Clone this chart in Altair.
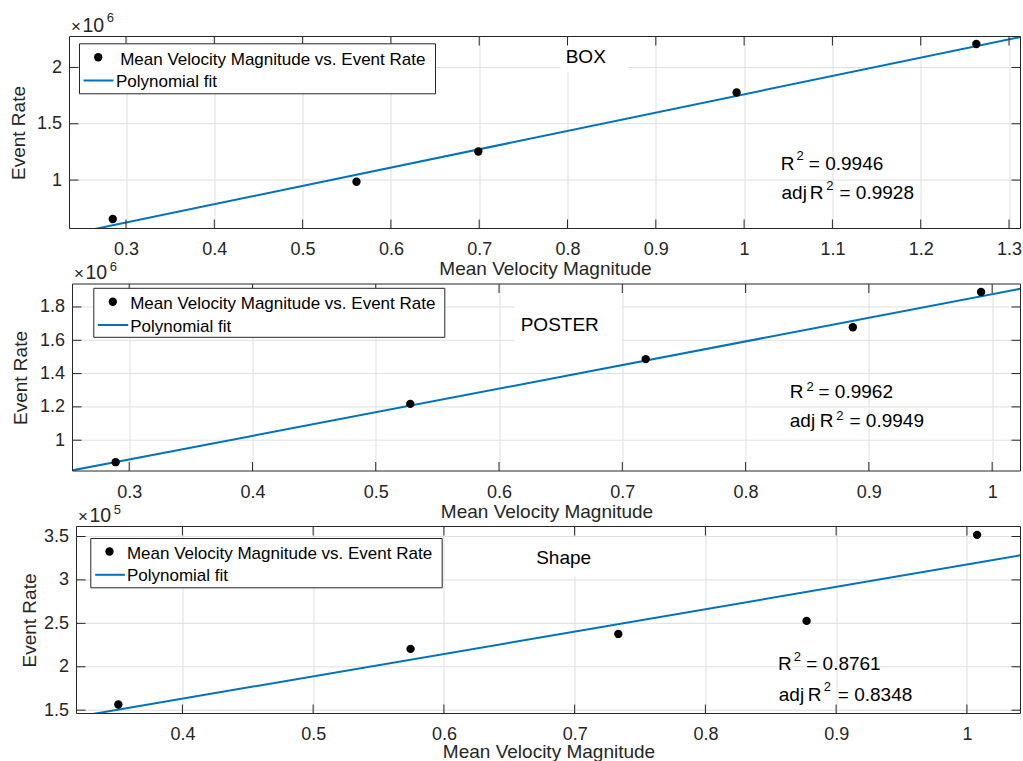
import altair as alt
import pandas as pd

FONT = "Liberation Sans"
DARK = "#262626"
BLUE = "#0072BD"
GRID = "#dfdfdf"

# ---------------- data ----------------
box_velocity = [0.285, 0.561, 0.699, 0.9915, 1.263]
box_rate = [654000, 985000, 1254000, 1778000, 2208000]
box_fit_velocity = [0.236, 1.313]
box_fit_rate = [519000, 2271000]

poster_velocity = [0.289, 0.528, 0.719, 0.887, 0.991]
poster_rate = [868000, 1218000, 1487000, 1678000, 1890000]
poster_fit_velocity = [0.254, 1.023]
poster_fit_rate = [819000, 1909500]

shape_velocity = [0.351, 0.5745, 0.7334, 0.8774, 1.0078]
shape_rate = [156500, 220600, 237800, 252800, 351900]
shape_fit_velocity = [0.319, 1.041]
shape_fit_rate = [142400, 328300]

panel_names = ["BOX", "POSTER", "Shape"]
r_squared = ["0.9946", "0.9962", "0.8761"]
adj_r_squared = ["0.9928", "0.9949", "0.8348"]
exponents = [6, 6, 5]
legend_labels = ["Mean Velocity Magnitude vs. Event Rate", "Polynomial fit"]

x_ticks_box = [0.3, 0.4, 0.5, 0.6, 0.7, 0.8, 0.9, 1.0, 1.1, 1.2, 1.3]
x_ticks_poster = [0.3, 0.4, 0.5, 0.6, 0.7, 0.8, 0.9, 1.0]
x_ticks_shape = [0.4, 0.5, 0.6, 0.7, 0.8, 0.9, 1.0]
y_ticks_box = [1000000, 1500000, 2000000]
y_ticks_poster = [1000000, 1200000, 1400000, 1600000, 1800000]
y_ticks_shape = [150000, 200000, 250000, 300000, 350000]

x_domain_box = [0.236, 1.313]
y_domain_box = [570000, 2275000]
x_domain_poster = [0.254, 1.023]
y_domain_poster = [815000, 1938000]
x_domain_shape = [0.319, 1.041]
y_domain_shape = [146200, 361500]

one = pd.DataFrame({"k": [0]})
TICK = 9
ORIGIN = 69          # common left origin of the three panels
FULL_W = 951         # from the common origin to the right frame edge
ANCHOR_X = 2


def text_piece(x, y, s, size, color="black"):
    return alt.Chart(one).mark_text(
        text=s, align="left", baseline="alphabetic", font=FONT,
        fontSize=size, color=color
    ).encode(x=alt.value(x), y=alt.value(y))


def rect_piece(x1, y1, x2, y2, stroke=False):
    if stroke:
        m = alt.Chart(one).mark_rect(fill="white", stroke=DARK, strokeWidth=1)
    else:
        m = alt.Chart(one).mark_rect(fill="white")
    return m.encode(x=alt.value(x1), x2=alt.value(x2), y=alt.value(y1), y2=alt.value(y2))


def panel(vel, rate, fvel, frate, xdom, ydom, xticks, yticks, exp, name, r2, adj, g):
    W, H = FULL_W, g["H"]
    dx = g["left"] - ORIGIN
    div = 10 ** exp
    xs = alt.Scale(domain=xdom, nice=False, zero=False, range=[dx, W])
    ys = alt.Scale(domain=ydom, nice=False, zero=False)
    xaxis = alt.Axis(values=xticks, title="Mean Velocity Magnitude", format="~g",
                     grid=True, labelPadding=12, titlePadding=g["xtp"],
                     titleBaseline="alphabetic")
    yaxis = alt.Axis(values=yticks, title="Event Rate", grid=False,
                     labelExpr=f"format(datum.value / {div}, '~g')",
                     labelPadding=8 - dx, titlePadding=g["ytp"])
    X = alt.X("v:Q", scale=xs, axis=xaxis)
    Y = alt.Y("r:Q", scale=ys, axis=yaxis)

    pts = pd.DataFrame({"v": vel, "r": rate})
    fit = pd.DataFrame({"v": fvel, "r": frate})
    xt = pd.DataFrame({"v": xticks})
    yt = pd.DataFrame({"r": yticks})

    def P(p):
        return (p[0] + dx, p[1])

    layers = []
    # invisible anchor fixing the panel's outer extent
    layers.append(alt.Chart(one).mark_rule(color="white", strokeWidth=1).encode(
        x=alt.value(-(ORIGIN - ANCHOR_X)), y=alt.value(-26), y2=alt.value(H + 52)))
    # horizontal grid lines inside the frame
    layers.append(alt.Chart(yt).mark_rule(color=GRID, strokeWidth=1).encode(
        y=Y, x=alt.value(dx), x2=alt.value(W)))
    # white background behind the panel name
    nx1, ny1, nx2, ny2 = g["name_rect"]
    layers.append(rect_piece(nx1 + dx, ny1, nx2 + dx, ny2))
    # fit line and data points
    layers.append(alt.Chart(fit).mark_line(color=BLUE, strokeWidth=2, clip=True).encode(x=X, y=Y))
    layers.append(alt.Chart(pts).mark_circle(color="black", size=70, opacity=1).encode(x=X, y=Y))
    # axes frame
    layers.append(alt.Chart(one).mark_rect(fillOpacity=0, stroke=DARK, strokeWidth=1).encode(
        x=alt.value(dx), x2=alt.value(W), y=alt.value(0), y2=alt.value(H)))
    # inward ticks on all four sides
    layers.append(alt.Chart(xt).mark_rule(color=DARK).encode(x=X, y=alt.value(0), y2=alt.value(TICK)))
    layers.append(alt.Chart(xt).mark_rule(color=DARK).encode(x=X, y=alt.value(H - TICK), y2=alt.value(H)))
    layers.append(alt.Chart(yt).mark_rule(color=DARK).encode(y=Y, x=alt.value(dx), x2=alt.value(dx + TICK)))
    layers.append(alt.Chart(yt).mark_rule(color=DARK).encode(y=Y, x=alt.value(W - TICK), x2=alt.value(W)))
    # legend
    lx1, ly1, lx2, ly2 = g["leg_box"]
    layers.append(rect_piece(lx1 + dx, ly1, lx2 + dx, ly2, stroke=True))
    ddx, ddy = P(g["leg_dot"])
    layers.append(alt.Chart(one).mark_circle(color="black", size=70, opacity=1).encode(
        x=alt.value(ddx), y=alt.value(ddy)))
    sx1, sx2, sy = g["leg_line"]
    layers.append(alt.Chart(one).mark_rule(color=BLUE, strokeWidth=2).encode(
        x=alt.value(sx1 + dx), x2=alt.value(sx2 + dx), y=alt.value(sy)))
    t1x, t1y = P(g["leg_t1"])
    t2x, t2y = P(g["leg_t2"])
    layers.append(text_piece(t1x, t1y, legend_labels[0], 17))
    layers.append(text_piece(t2x, t2y, legend_labels[1], 17))
    # panel name
    tx, ty = P(g["name_txt"])
    layers.append(text_piece(tx, ty, name, 19))
    # R^2 annotations
    r = {k: P(v) for k, v in g["r2"].items()}
    layers.append(text_piece(r["R"][0], r["R"][1], "R", 19))
    layers.append(text_piece(r["s"][0], r["s"][1], "2", 13))
    layers.append(text_piece(r["e"][0], r["e"][1], "= " + r2, 19))
    layers.append(text_piece(r["a"][0], r["a"][1], "adj", 19))
    layers.append(text_piece(r["aR"][0], r["aR"][1], "R", 19))
    layers.append(text_piece(r["as"][0], r["as"][1], "2", 13))
    layers.append(text_piece(r["ae"][0], r["ae"][1], "= " + adj, 19))
    # exponent multiplier above the y axis
    mb, eb = g["mult_base"]
    layers.append(text_piece(1.5 + dx, mb, "\u00d7", 17, DARK))
    layers.append(text_piece(13 + dx, mb, "10", 19.5, DARK))
    layers.append(text_piece(37.2 + dx, eb, str(exp), 13, DARK))

    return alt.layer(*layers).properties(width=W, height=H)


geo_box = dict(
    left=69, H=192, xtp=16, ytp=7.7,
    leg_box=(10, 7.3, 366, 57.3), leg_dot=(28.7, 20.7), leg_line=(14, 44, 44),
    leg_t1=(50.7, 28), leg_t2=(46.4, 50.3),
    name_rect=(491, 3, 559, 36), name_txt=(496.2, 26.3),
    r2=dict(R=(711.2, 133), s=(727, 123.7), e=(739.3, 133),
            a=(712, 162.5), aR=(740.2, 162.5), **{"as": (756.7, 153)}, ae=(770, 162.5)),
    mult_base=(-4.3, -14.3),
)
geo_poster = dict(
    left=72, H=187, xtp=16, ytp=8.7,
    leg_box=(21.3, 4.3, 372.3, 53.3), leg_dot=(40.3, 17.7), leg_line=(25.3, 55.7, 41),
    leg_t1=(57.7, 25), leg_t2=(57.7, 47.7),
    name_rect=(442, 10, 549, 58), name_txt=(448.2, 46.7),
    r2=dict(R=(717.2, 114.3), s=(734, 106.7), e=(746, 114.3),
            a=(717.3, 142.7), aR=(747.2, 142.7), **{"as": (763.7, 136)}, ae=(777, 142.7)),
    mult_base=(-4.7, -13),
)
geo_shape = dict(
    left=76, H=187, xtp=14, ytp=3.7,
    leg_box=(14.3, 12, 365.7, 61.3), leg_dot=(33, 25), leg_line=(18.7, 48.3, 48.3),
    leg_t1=(50.4, 32.3), leg_t2=(50.4, 54.7),
    name_rect=(454, 11, 522, 50), name_txt=(459.7, 37.3),
    r2=dict(R=(701.5, 143.3), s=(717.3, 134.7), e=(729.7, 143.3),
            a=(702.3, 174), aR=(731.2, 174), **{"as": (747.3, 164)}, ae=(761.3, 174)),
    mult_base=(-4.5, -13),
)

p1 = panel(box_velocity, box_rate, box_fit_velocity, box_fit_rate, x_domain_box, y_domain_box,
           x_ticks_box, y_ticks_box, exponents[0], panel_names[0], r_squared[0], adj_r_squared[0], geo_box)
p2 = panel(poster_velocity, poster_rate, poster_fit_velocity, poster_fit_rate, x_domain_poster,
           y_domain_poster, x_ticks_poster, y_ticks_poster, exponents[1], panel_names[1],
           r_squared[1], adj_r_squared[1], geo_poster)
p3 = panel(shape_velocity, shape_rate, shape_fit_velocity, shape_fit_rate, x_domain_shape,
           y_domain_shape, x_ticks_shape, y_ticks_shape, exponents[2], panel_names[2],
           r_squared[2], adj_r_squared[2], geo_shape)

chart = alt.vconcat(p1, p2, p3, spacing=-24.5).properties(
    padding={"left": 1.5, "top": 9.5, "right": 0, "bottom": 0},
    background="white",
).configure_view(
    stroke="transparent", strokeWidth=0
).configure_axis(
    domain=False, ticks=False, tickSize=0,
    labelFont=FONT, labelFontSize=18, labelColor=DARK,
    titleFont=FONT, titleFontSize=19, titleFontWeight="normal", titleColor=DARK,
    gridColor=GRID, gridWidth=1, labelFlush=False, labelOverlap=False,
)

chart.save("out.html", embed_options={"renderer": "svg", "actions": False})
